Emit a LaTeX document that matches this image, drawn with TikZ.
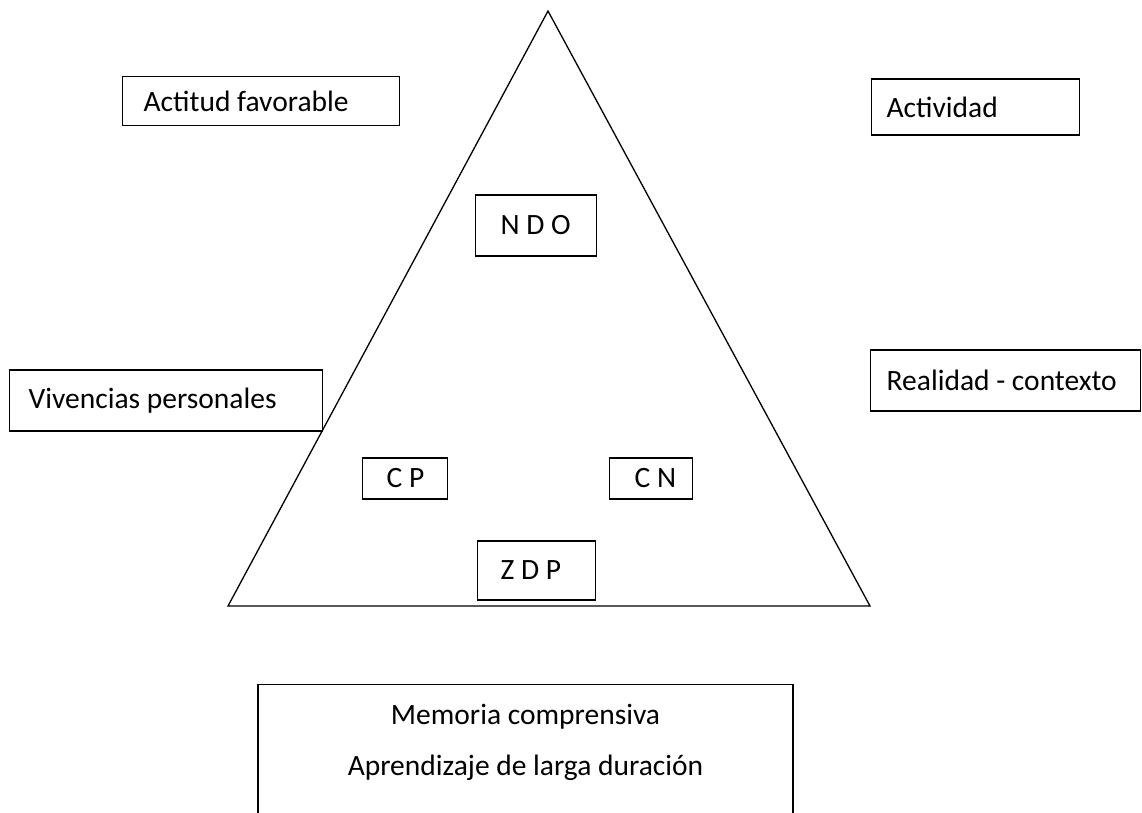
\documentclass[tikz,border=0pt]{standalone}
\usepackage{fontspec}
\setmainfont{Carlito}
\begin{document}
\begin{tikzpicture}[x=1pt,y=-1pt,
  line width=1.3pt,
  every node/.style={font=\fontsize{29.5}{34}\selectfont},
  lbox/.style={draw, line width=1.3pt, anchor=west, inner ysep=0pt},
  txt/.style={inner sep=0pt}]
\useasboundingbox (0,0) rectangle (1142,812);
% triangle
\coordinate (apex) at (548,11);
\coordinate (bl) at (228,606);
\coordinate (br) at (870,606);
\draw[line width=1.3pt, line join=miter] (apex) -- (bl) -- (br) -- cycle;
% boxes (anchor west at left edge)
\node[lbox, minimum height=49pt, inner xsep=21pt] (actitud) at (122,101) {\makebox[235pt][l]{Actitud favorable}};
\node[lbox, minimum height=56pt, inner xsep=15pt] (actividad) at (871,107) {\makebox[178pt][l]{Actividad}};
\node[lbox, minimum height=61pt, inner xsep=25pt] (ndo) at (475,225.5) {\makebox[71pt][l]{N D O}};
\node[lbox, minimum height=61pt, inner xsep=19pt] (viv) at (9,400.5) {\makebox[275pt][l]{Vivencias personales}};
\node[lbox, minimum height=61pt, inner xsep=16pt] (real) at (870,380.5) {\makebox[238pt][l]{Realidad - contexto}};
\node[lbox, minimum height=41pt, inner xsep=24pt] (cp) at (362,478.5) {\makebox[37pt][l]{C P}};
\node[lbox, minimum height=41pt, inner xsep=25pt] (cn) at (609,478.5) {\makebox[33pt][l]{C N}};
\node[lbox, minimum height=59pt, inner xsep=23pt] (zdp) at (477,570.5) {\makebox[72pt][l]{Z D P}};
\node[draw, line width=1.3pt, minimum width=535pt, minimum height=140pt, anchor=north] (mem) at (525.5,684) {};
\node[txt] (mem1) at (525.5,717) {Memoria comprensiva};
\node[txt] (mem2) at (525.5,768) {Aprendizaje de larga duración};
\end{tikzpicture}
\end{document}
